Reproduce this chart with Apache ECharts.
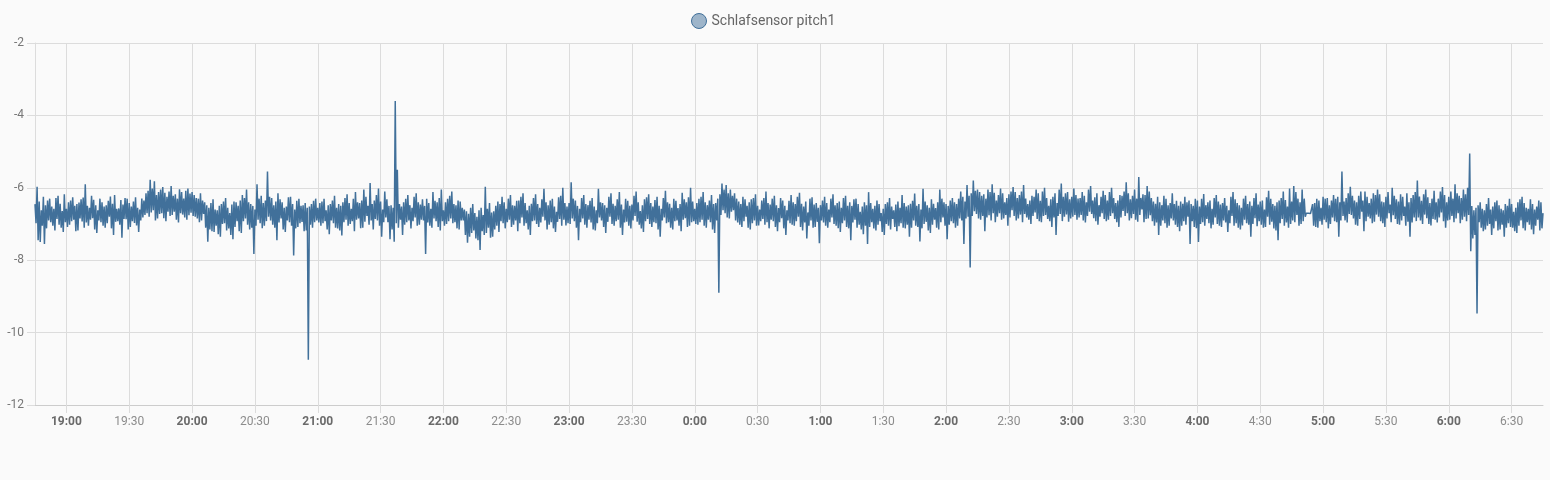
<!DOCTYPE html>
<html>
<head>
<meta charset="utf-8">
<script src="https://cdn.jsdelivr.net/npm/echarts@6/dist/echarts.min.js"></script>
<style>
html,body{margin:0;padding:0;background:#fafafa;}
#chart{width:1550px;height:480px;}
</style>
</head>
<body>
<div id="chart"></div>
<script>
const seriesName = 'Schlafsensor pitch1';
// Start of each block, minutes since 18:00. Each block holds one reading at :00 s (hi..) and one at :30 s (lo..) per minute.
const blockStartMinutes = [45,60,120,180,240,300,360,420,480,540,600,660,720];

const hi1845 = [-6.45,-5.97,-6.38,-6.62,-6.25,-6.48,-6.35,-6.30,-6.52,-6.58,-6.28,-6.22,-6.44,-6.64,-6.18];
const lo1845 = [-6.98,-7.45,-7.50,-7.05,-7.55,-7.12,-6.90,-6.95,-7.05,-7.18,-6.86,-7.02,-7.10,-7.22,-6.95];

const hi19 = [-6.58,-6.40,-6.35,-6.26,-6.50,-6.45,-6.41,-6.32,-6.27,-5.90,-6.50,-6.55,-6.22,-6.33,-6.48,-6.62,-6.30,-6.40,-6.52,-6.48,
  -6.36,-6.24,-6.44,-6.20,-6.58,-6.57,-6.34,-6.46,-6.28,-6.30,-6.42,-6.52,-6.38,-6.26,-6.55,-6.60,-6.30,-6.35,-6.15,-6.08,
  -5.78,-6.02,-5.82,-6.20,-6.12,-6.05,-5.98,-6.14,-6.25,-6.10,-5.95,-6.22,-6.18,-6.30,-6.04,-6.12,-6.30,-6.08,-6.02,-6.16];
const lo19 = [-7.08,-7.02,-6.92,-6.88,-7.20,-7.18,-6.85,-6.93,-7.10,-6.96,-7.05,-6.88,-6.84,-7.15,-7.25,-6.90,-6.95,-7.05,-7.10,-6.98,
  -6.80,-7.12,-7.30,-6.94,-6.92,-7.02,-7.38,-6.86,-6.87,-7.15,-7.08,-6.92,-6.97,-7.04,-7.22,-6.90,-6.82,-6.75,-6.70,-6.80,
  -6.68,-6.62,-6.90,-6.85,-6.72,-6.70,-6.84,-6.92,-6.66,-6.78,-6.75,-6.66,-6.88,-6.96,-6.70,-6.74,-6.82,-6.88,-6.76,-6.69];

const hi20 = [-6.12,-6.20,-6.28,-6.30,-6.15,-6.35,-6.40,-6.48,-6.55,-6.42,-6.32,-6.60,-6.62,-6.50,-6.45,-6.38,-6.28,-6.55,-6.70,-6.46,
  -6.38,-6.40,-6.50,-6.35,-6.20,-6.28,-6.05,-6.40,-6.45,-6.50,-6.60,-5.90,-6.30,-6.22,-6.42,-6.35,-5.55,-6.25,-6.28,-6.48,
  -6.38,-6.15,-6.32,-6.40,-6.55,-6.52,-6.26,-6.25,-6.45,-6.60,-6.36,-6.30,-6.50,-6.48,-6.42,-6.55,-6.52,-6.45,-6.36,-6.30];
const lo20 = [-6.78,-6.80,-6.85,-6.95,-6.90,-6.72,-7.10,-7.49,-7.15,-7.20,-7.22,-7.05,-7.28,-7.35,-7.00,-6.98,-7.18,-7.12,-7.30,-7.42,
  -7.08,-6.92,-7.20,-7.25,-6.92,-6.85,-7.02,-7.15,-7.10,-7.83,-7.05,-6.88,-6.98,-7.12,-7.05,-6.92,-6.80,-6.90,-7.02,-7.10,
  -7.45,-6.96,-6.85,-7.15,-7.22,-6.90,-6.95,-7.05,-7.87,-7.12,-7.08,-6.98,-6.94,-7.20,-7.18,-10.75,-7.02,-7.10,-6.95,-6.90];

const hi21 = [-6.55,-6.42,-6.38,-6.30,-6.62,-6.48,-6.45,-6.35,-6.22,-6.55,-6.45,-6.50,-6.40,-6.28,-6.18,-6.42,-6.58,-6.30,-6.12,-6.40,
  -6.42,-6.35,-6.05,-6.25,-6.50,-5.87,-6.45,-6.35,-6.20,-6.02,-6.38,-6.60,-6.10,-6.32,-6.50,-6.48,-6.55,-3.60,-5.50,-6.45,
  -6.52,-6.40,-6.30,-6.20,-6.48,-6.55,-6.25,-6.15,-6.40,-6.46,-6.32,-6.50,-6.30,-6.42,-6.58,-6.12,-6.36,-6.40,-6.28,-6.05];
const lo21 = [-6.96,-7.05,-6.98,-6.92,-7.15,-7.28,-6.90,-6.98,-7.10,-7.12,-7.18,-7.32,-6.95,-6.88,-7.05,-7.00,-6.92,-7.20,-6.88,-6.85,
  -7.12,-7.10,-6.94,-6.78,-7.02,-6.90,-7.15,-6.86,-6.90,-7.05,-7.35,-6.95,-6.82,-6.95,-7.42,-7.15,-7.49,-6.98,-7.10,-6.88,
  -7.30,-7.02,-6.95,-6.90,-7.12,-6.92,-6.82,-7.05,-7.02,-6.88,-6.90,-7.83,-6.96,-7.05,-7.10,-6.85,-6.92,-7.08,-7.18,-6.92];

const hi22 = [-6.62,-6.40,-6.30,-6.22,-6.10,-6.45,-6.48,-6.35,-6.38,-6.55,-6.60,-6.65,-6.72,-6.55,-6.45,-6.70,-6.80,-6.62,-6.55,-6.75,
  -5.97,-6.58,-6.42,-6.68,-6.65,-6.50,-6.38,-6.45,-6.25,-6.40,-6.58,-6.30,-6.20,-6.48,-6.50,-6.36,-6.35,-6.25,-6.15,-6.42,
  -6.62,-6.50,-6.44,-6.28,-6.18,-6.45,-6.55,-6.32,-6.03,-6.40,-6.48,-6.35,-6.30,-6.52,-6.66,-6.26,-6.22,-6.00,-6.42,-6.52];
const lo22 = [-7.05,-7.00,-6.92,-6.85,-6.98,-6.95,-7.12,-7.15,-6.90,-6.90,-7.30,-7.52,-7.35,-7.25,-7.18,-7.40,-7.45,-7.72,-7.20,-7.30,
  -7.25,-7.10,-7.38,-7.35,-7.15,-7.05,-7.22,-6.92,-6.98,-7.12,-6.95,-6.88,-7.08,-7.02,-6.90,-7.20,-6.98,-6.82,-7.05,-6.98,
  -7.15,-7.30,-6.92,-6.90,-7.00,-7.08,-6.96,-6.80,-6.90,-7.15,-7.02,-6.95,-7.12,-7.22,-6.94,-6.86,-7.05,-6.88,-7.04,-6.98];

const hi23 = [-6.42,-5.85,-6.30,-6.35,-6.50,-6.58,-6.28,-6.20,-6.45,-6.48,-6.36,-6.28,-6.52,-6.62,-6.03,-6.40,-6.42,-6.48,-6.55,-6.25,
  -6.15,-6.44,-6.50,-6.32,-6.12,-6.46,-6.60,-6.30,-6.36,-6.50,-6.46,-6.22,-6.10,-6.40,-6.64,-6.48,-6.32,-6.26,-6.18,-6.42,
  -6.52,-6.34,-6.25,-6.50,-6.58,-6.28,-6.08,-6.40,-6.44,-6.55,-6.30,-6.36,-6.56,-6.45,-6.14,-6.32,-6.40,-6.26,-6.00,-6.38];
const lo23 = [-7.00,-6.85,-6.92,-7.10,-7.45,-6.95,-6.85,-7.02,-7.10,-6.88,-6.96,-7.15,-7.18,-6.98,-6.82,-6.90,-7.08,-7.25,-6.94,-6.80,
  -7.00,-7.05,-6.92,-6.88,-7.10,-7.30,-6.96,-6.94,-7.05,-7.12,-6.90,-6.78,-6.94,-7.02,-7.12,-7.22,-6.92,-6.86,-7.00,-7.08,
  -6.95,-6.98,-7.15,-7.35,-6.90,-6.82,-6.98,-6.95,-7.10,-7.15,-6.92,-6.90,-7.05,-7.20,-6.88,-6.84,-7.08,-7.05,-6.95,-6.92];

const hi00 = [-6.58,-6.42,-6.30,-6.25,-6.12,-6.40,-6.48,-6.35,-6.20,-6.45,-6.42,-6.30,-6.18,-5.88,-6.05,-5.92,-6.15,-6.05,-6.22,-6.15,
  -6.30,-6.38,-6.45,-6.25,-6.32,-6.50,-6.40,-6.32,-6.28,-6.18,-6.50,-6.60,-6.35,-6.28,-6.10,-6.42,-6.46,-6.30,-6.22,-6.48,
  -6.56,-6.28,-6.35,-6.50,-6.62,-6.36,-6.20,-6.40,-6.45,-6.25,-6.14,-6.44,-6.52,-6.38,-6.68,-6.30,-6.26,-6.46,-6.42,-6.55];
const lo00 = [-7.00,-7.02,-6.95,-6.88,-7.05,-7.10,-6.88,-6.95,-7.15,-7.25,-6.90,-8.90,-6.75,-6.62,-6.70,-6.82,-6.85,-6.66,-6.62,-6.90,
  -6.96,-7.02,-7.08,-6.92,-6.80,-7.10,-7.15,-6.98,-6.90,-7.05,-7.04,-6.92,-6.86,-7.02,-6.95,-7.12,-6.88,-6.92,-7.08,-7.20,
  -6.95,-6.84,-7.12,-7.30,-6.90,-6.98,-7.02,-7.05,-6.92,-6.80,-7.08,-7.18,-6.96,-7.40,-7.05,-6.90,-7.10,-7.08,-6.94,-7.53];

const hi01 = [-6.48,-6.35,-6.25,-6.42,-6.60,-6.30,-6.18,-6.48,-6.42,-6.38,-6.55,-6.28,-6.22,-6.50,-6.40,-6.50,-6.32,-6.30,-6.45,-6.66,
  -6.52,-6.40,-6.48,-6.12,-6.42,-6.58,-6.50,-6.35,-6.45,-6.70,-6.58,-6.45,-6.40,-6.28,-6.52,-6.62,-6.46,-6.38,-6.55,-6.20,
  -6.42,-6.52,-6.48,-6.44,-6.36,-6.16,-6.50,-6.45,-6.60,-6.03,-6.38,-6.48,-6.55,-6.32,-6.44,-6.56,-6.40,-6.05,-6.30,-6.40];
const lo01 = [-6.90,-6.96,-7.05,-7.10,-6.95,-6.82,-7.00,-7.05,-7.12,-7.22,-6.98,-6.90,-7.08,-7.12,-7.45,-6.96,-6.88,-7.10,-7.02,-7.15,
  -7.28,-7.05,-7.55,-7.08,-6.95,-7.12,-7.18,-7.02,-6.92,-7.22,-7.30,-7.00,-7.05,-7.15,-6.86,-7.08,-7.20,-7.06,-6.98,-7.10,
  -7.12,-7.02,-7.35,-7.10,-6.90,-7.05,-7.08,-7.48,-7.12,-7.00,-6.94,-7.18,-7.25,-7.02,-6.88,-7.10,-7.15,-6.95,-6.82,-7.05];

const hi02 = [-6.45,-6.50,-6.35,-6.28,-6.40,-6.45,-6.30,-6.10,-6.25,-6.38,-5.92,-6.22,-6.15,-5.80,-6.08,-6.05,-6.12,-6.22,-6.18,-6.30,
  -6.05,-6.12,-5.90,-6.14,-6.35,-6.20,-6.02,-6.15,-6.40,-6.28,-6.18,-6.10,-5.98,-6.12,-6.28,-6.20,-6.10,-5.92,-6.30,-6.45,
  -6.35,-6.22,-6.25,-6.05,-6.15,-6.36,-6.10,-6.00,-6.28,-6.50,-6.32,-6.25,-6.15,-6.42,-6.05,-5.88,-6.25,-6.15,-6.12,-6.32];
const lo02 = [-7.42,-7.02,-6.92,-6.98,-7.10,-7.05,-6.85,-6.90,-7.55,-6.85,-6.80,-8.20,-6.78,-6.65,-6.72,-6.85,-6.88,-6.78,-7.20,-6.82,
  -6.76,-6.90,-6.70,-6.95,-6.80,-6.70,-6.88,-6.85,-6.75,-7.05,-6.82,-6.62,-6.78,-6.90,-6.85,-6.74,-6.95,-6.72,-6.82,-6.88,
  -7.00,-6.78,-6.68,-6.86,-6.92,-6.95,-6.78,-6.75,-6.86,-6.92,-7.08,-6.82,-7.30,-6.78,-6.72,-6.92,-6.80,-6.74,-6.94,-6.85];

const hi03 = [-6.25,-6.02,-6.20,-6.30,-6.28,-6.12,-6.22,-6.40,-6.05,-5.95,-6.35,-6.26,-6.15,-6.48,-6.25,-6.08,-6.20,-6.35,-6.12,-6.00,
  -6.28,-6.42,-6.35,-6.20,-6.22,-6.10,-5.85,-6.15,-6.32,-6.22,-6.05,-6.30,-5.70,-6.28,-6.18,-6.20,-5.95,-6.10,-6.28,-6.38,
  -6.44,-6.25,-6.40,-6.48,-6.22,-6.30,-6.48,-6.42,-6.15,-6.45,-6.36,-6.50,-6.38,-6.44,-6.25,-6.40,-6.35,-6.45,-6.50,-6.30];
const lo03 = [-6.80,-6.75,-6.88,-6.82,-6.75,-6.90,-6.96,-6.78,-6.66,-6.72,-6.84,-6.92,-7.02,-6.80,-6.70,-6.86,-6.92,-6.88,-6.78,-6.70,
  -6.86,-6.95,-7.08,-6.82,-6.64,-6.78,-6.70,-6.90,-6.84,-6.72,-6.88,-6.94,-6.75,-6.60,-6.95,-6.86,-6.85,-6.76,-6.92,-7.05,
  -6.96,-7.30,-7.05,-6.90,-6.98,-7.10,-7.05,-6.85,-6.90,-7.02,-7.08,-7.20,-7.05,-6.92,-7.02,-6.80,-7.55,-6.92,-7.08,-7.12];

const hi04 = [-6.35,-6.52,-6.30,-6.17,-6.48,-6.40,-6.35,-6.58,-6.28,-6.20,-6.38,-6.46,-6.42,-6.28,-6.50,-6.62,-6.25,-6.12,-6.32,-6.42,
  -6.48,-6.55,-6.30,-6.22,-6.45,-6.38,-6.50,-6.28,-6.15,-6.46,-6.38,-6.35,-6.60,-6.26,-6.08,-6.30,-6.45,-6.50,-6.40,-6.35,
  -6.28,-6.10,-6.34,-6.52,-6.02,-6.38,-5.95,-6.12,-6.30,-6.40,-6.05,-6.30,-6.70,-6.70,-6.71,-6.45,-6.42,-6.30,-6.35,-6.55];
const lo04 = [-7.50,-7.00,-6.95,-7.05,-6.86,-6.98,-7.12,-7.02,-6.82,-7.00,-7.05,-7.08,-6.90,-6.96,-7.22,-6.98,-6.78,-7.05,-6.98,-7.10,
  -7.15,-7.04,-6.88,-6.98,-7.02,-7.35,-7.00,-6.84,-7.06,-6.92,-7.02,-7.10,-7.08,-6.80,-7.02,-6.94,-7.12,-7.18,-7.45,-6.98,
  -6.86,-7.05,-6.96,-7.10,-7.00,-6.90,-6.95,-6.75,-7.05,-7.00,-6.92,-6.80,-6.70,-6.70,-6.71,-7.05,-7.08,-7.10,-6.92,-7.02];

const hi05 = [-6.25,-6.30,-6.28,-6.48,-6.35,-6.20,-6.30,-6.25,-6.40,-5.55,-6.38,-6.28,-6.15,-5.97,-6.22,-6.35,-6.40,-6.22,-6.10,-6.35,
  -6.10,-6.25,-6.42,-6.30,-6.15,-6.20,-6.05,-6.18,-6.38,-6.40,-6.25,-6.12,-6.46,-6.00,-6.22,-6.32,-6.38,-6.18,-6.25,-6.52,
  -6.15,-6.40,-6.28,-6.20,-6.12,-5.80,-6.24,-6.36,-6.18,-6.05,-6.26,-6.42,-6.30,-6.08,-6.40,-6.30,-6.10,-5.98,-6.20,-6.40];
const lo05 = [-6.88,-6.95,-7.12,-7.00,-6.82,-6.92,-6.95,-7.35,-6.90,-6.78,-6.90,-6.96,-6.72,-6.75,-6.85,-7.02,-7.05,-6.86,-6.66,-7.20,
  -6.92,-6.80,-6.85,-6.98,-6.94,-6.74,-6.80,-6.92,-6.98,-7.08,-6.85,-6.70,-6.95,-6.76,-6.86,-7.00,-7.02,-6.90,-6.78,-7.05,
  -6.94,-7.35,-6.96,-6.82,-6.92,-6.82,-6.90,-7.00,-6.74,-6.84,-7.00,-7.04,-6.86,-6.88,-6.96,-6.82,-6.68,-6.92,-7.10,-6.90];

const hi06 = [-6.25,-6.10,-6.30,-5.90,-6.15,-6.22,-6.28,-6.05,-6.18,-6.00,-5.05,-6.50,-6.62,-6.55,-6.48,-6.40,-6.58,-6.62,-6.45,-6.28,
  -6.60,-6.52,-6.40,-6.35,-6.48,-6.58,-6.62,-6.45,-6.50,-6.30,-6.45,-6.66,-6.55,-6.40,-6.32,-6.25,-6.42,-6.55,-6.58,-6.32,
  -6.45,-6.60,-6.52,-6.35,-6.40,-6.70];
const lo06 = [-6.88,-6.78,-6.95,-6.85,-6.70,-6.98,-6.88,-6.80,-6.92,-6.75,-7.75,-7.40,-7.30,-9.47,-6.95,-7.10,-7.20,-7.15,-7.05,-7.00,
  -7.30,-7.12,-6.92,-7.18,-7.15,-7.02,-7.35,-7.10,-6.98,-7.08,-7.10,-7.20,-7.25,-7.05,-6.90,-7.12,-7.18,-6.95,-7.02,-7.15,
  -7.28,-7.05,-6.88,-7.18,-7.12];

const hiBlocks = [hi1845,hi19,hi20,hi21,hi22,hi23,hi00,hi01,hi02,hi03,hi04,hi05,hi06];
const loBlocks = [lo1845,lo19,lo20,lo21,lo22,lo23,lo00,lo01,lo02,lo03,lo04,lo05,lo06];

// X tick positions (minutes since 18:00) and their labels
const tickMinutes = [60,90,120,150,180,210,240,270,300,330,360,390,420,450,480,510,540,570,600,630,660,690,720,750];
const tickLabels = ['19:00','19:30','20:00','20:30','21:00','21:30','22:00','22:30','23:00','23:30','0:00','0:30',
  '1:00','1:30','2:00','2:30','3:00','3:30','4:00','4:30','5:00','5:30','6:00','6:30'];
const yTicks = [-12,-10,-8,-6,-4,-2];
const xMin = 45, xMax = 765;

const data = [];
hiBlocks.forEach((hi, b) => {
  const lo = loBlocks[b];
  const s = blockStartMinutes[b];
  hi.forEach((v, i) => {
    data.push([s + i, v]);
    if (lo[i] !== undefined) data.push([s + i + 0.5, lo[i]]);
  });
});

const chart = echarts.init(document.getElementById('chart'), null, {renderer:'canvas'});
const gridColor = '#dcdcdc';
chart.setOption({
  backgroundColor: '#fafafa',
  animation: false,
  textStyle: {fontFamily: 'Roboto'},
  legend: {
    top: 8, left: 686,
    icon: 'circle', itemWidth: 15, itemHeight: 15, itemGap: 10,
    textStyle: {color: '#666', fontSize: 14, fontFamily: 'Roboto'},
    data: [{name: seriesName, itemStyle: {color: 'rgba(65,112,154,0.5)', borderColor: '#41709a', borderWidth: 1}}]
  },
  grid: {left: 35, right: 7, top: 43, bottom: 75, containLabel: false},
  xAxis: {
    type: 'value',
    min: xMin,
    max: xMax,
    axisLine: {show: true, lineStyle: {color: '#cccccc'}},
    axisTick: {show: true, length: 8, lineStyle: {color: gridColor}, customValues: tickMinutes},
    splitLine: {show: true, lineStyle: {color: gridColor}},
    axisLabel: {
      customValues: tickMinutes,
      margin: 11,
      fontSize: 12,
      formatter: function (v) {
        const idx = tickMinutes.indexOf(v);
        const lab = idx >= 0 ? tickLabels[idx] : '';
        return lab.endsWith(':00') ? '{b|' + lab + '}' : '{n|' + lab + '}';
      },
      rich: {
        b: {fontWeight: 'bold', color: '#6a6a6a', fontSize: 12, fontFamily: 'Roboto'},
        n: {color: '#8c8c8c', fontSize: 12, fontFamily: 'Roboto'}
      }
    }
  },
  yAxis: {
    type: 'value',
    min: yTicks[0], max: yTicks[yTicks.length-1], interval: 2,
    axisLine: {show: true, lineStyle: {color: gridColor}},
    axisTick: {show: true, length: 8, lineStyle: {color: gridColor}},
    splitLine: {show: true, lineStyle: {color: gridColor}},
    axisLabel: {color: '#777', fontSize: 12, margin: 11, fontFamily: 'Roboto'}
  },
  series: [{
    name: seriesName,
    type: 'line',
    data: data,
    showSymbol: false,
    symbol: 'none',
    sampling: null,
    color: '#41709a',
    lineStyle: {width: 1.5, color: '#41709a'},
    itemStyle: {color: '#41709a'}
  }]
});
</script>
</body>
</html>
